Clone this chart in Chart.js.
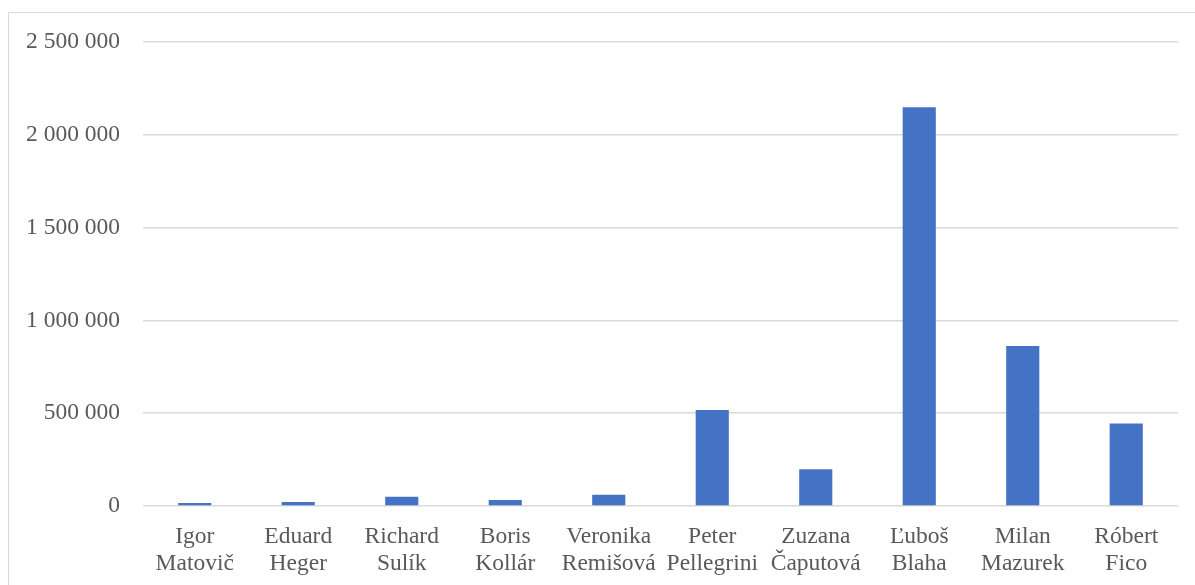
<!DOCTYPE html>
<html>
<head>
<meta charset="utf-8">
<script src="https://cdn.jsdelivr.net/npm/chart.js@4"></script>
<style>
  html, body { margin: 0; padding: 0; background: #fff; overflow: hidden; }
  #frame { position: absolute; left: 8px; top: 12px; width: 2000px; height: 2000px;
           border-left: 1px solid #d9d9d9; border-top: 1px solid #d9d9d9; }
  #c { position: absolute; left: 0; top: 0; }
</style>
</head>
<body>
<div id="frame"></div>
<canvas id="c" width="1195" height="585"></canvas>
<script>
const categories = [
  ['Igor', 'Matovič'],
  ['Eduard', 'Heger'],
  ['Richard', 'Sulík'],
  ['Boris', 'Kollár'],
  ['Veronika', 'Remišová'],
  ['Peter', 'Pellegrini'],
  ['Zuzana', 'Čaputová'],
  ['Ľuboš', 'Blaha'],
  ['Milan', 'Mazurek'],
  ['Róbert', 'Fico']
];
const values = [16000, 22000, 50000, 32000, 61000, 517000, 198000, 2148000, 862000, 445000];
const yTicks = [0, 500000, 1000000, 1500000, 2000000, 2500000];

const fontFamily = "'Liberation Serif', 'Times New Roman', serif";
const textColor = '#595959';

new Chart(document.getElementById('c'), {
  type: 'bar',
  data: {
    labels: categories,
    datasets: [{
      data: values,
      backgroundColor: '#4472c4',
      borderWidth: 0,
      barPercentage: 0.32,
      categoryPercentage: 1.0
    }]
  },
  options: {
    responsive: false,
    animation: false,
    devicePixelRatio: 1,
    layout: { padding: { top: 42, right: 17, left: 0, bottom: 0 } },
    plugins: { legend: { display: false }, tooltip: { enabled: false } },
    scales: {
      x: {
        grid: { display: false, drawTicks: false },
        border: { display: false },
        ticks: {
          color: textColor,
          font: { family: fontFamily, size: 23.5, lineHeight: 1.15 },
          padding: 17,
          maxRotation: 0,
          autoSkip: false
        },
        afterFit: (s) => { s.height = 79; }
      },
      y: {
        min: 0,
        max: 2500000,
        afterBuildTicks: (s) => { s.ticks = yTicks.map(v => ({ value: v })); },
        grid: { color: '#d9d9d9', lineWidth: 1.5, drawTicks: false },
        border: { display: false },
        ticks: {
          color: textColor,
          font: { family: fontFamily, size: 23.5 },
          padding: 23,
          callback: (v) => String(v).replace(/\B(?=(\d{3})+(?!\d))/g, ' ')
        },
        afterFit: (s) => { s.width = 143; }
      }
    }
  }
});
</script>
</body>
</html>
